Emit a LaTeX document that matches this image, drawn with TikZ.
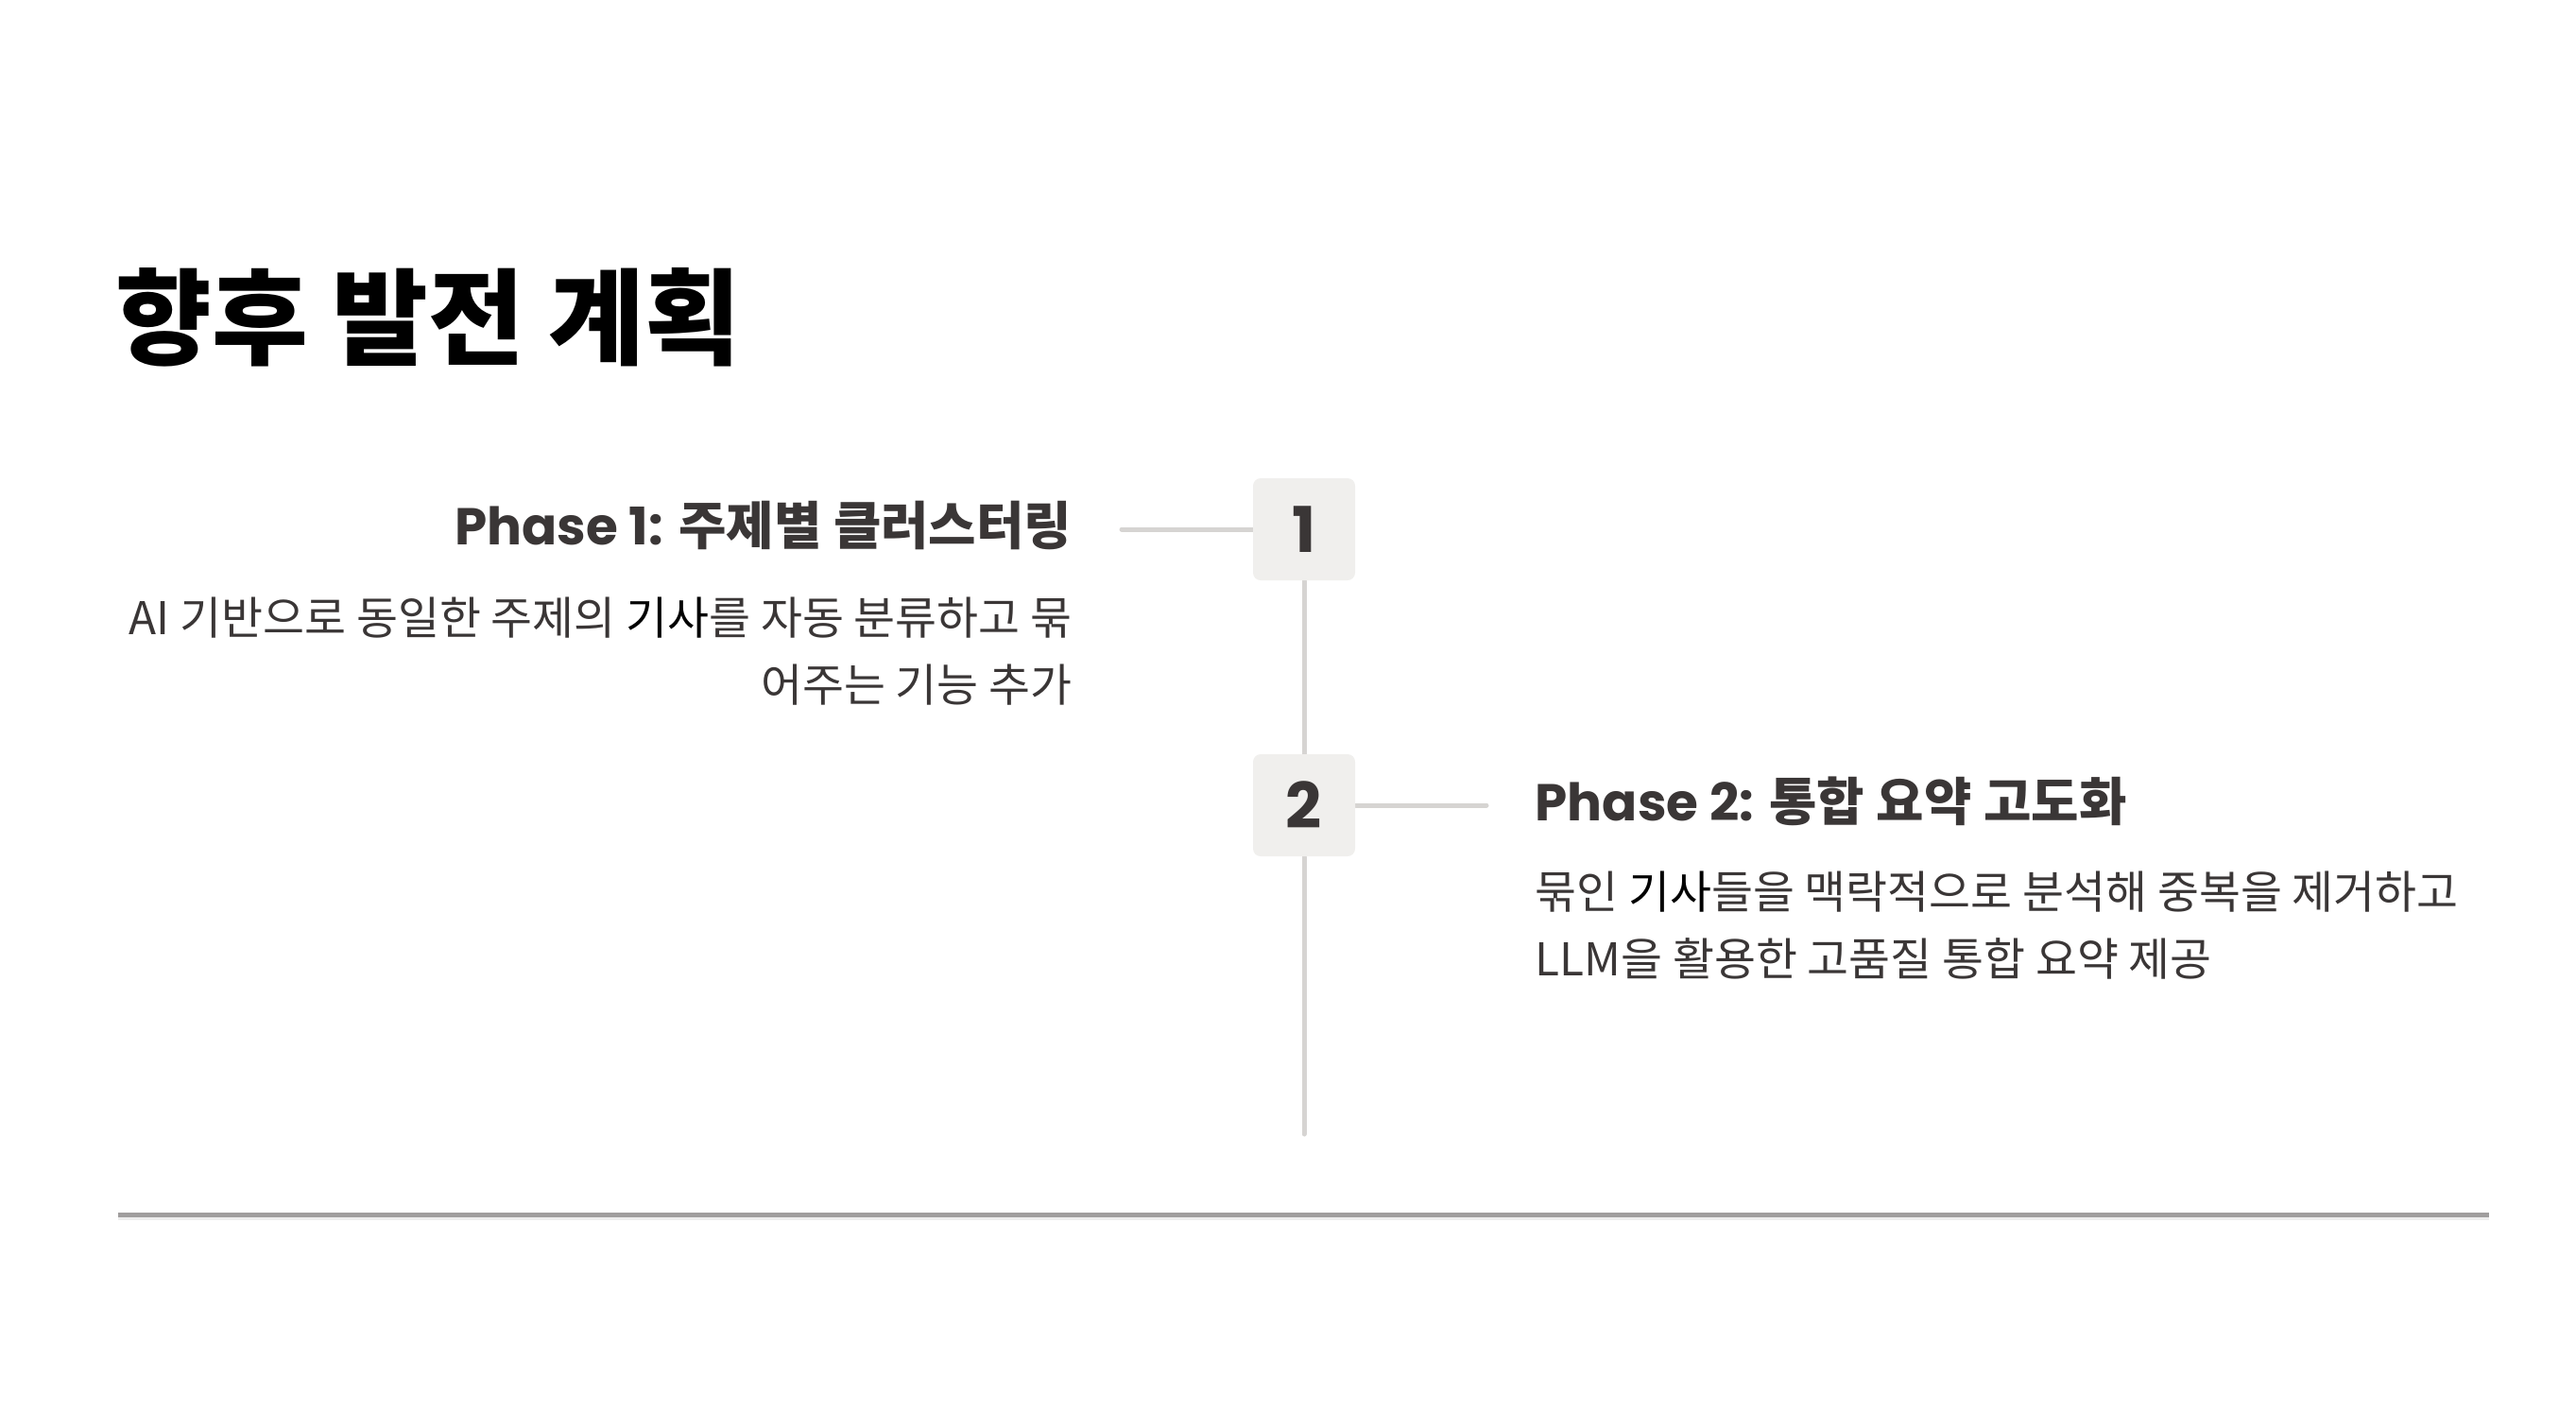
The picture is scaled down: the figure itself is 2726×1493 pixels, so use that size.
\documentclass[tikz,border=0pt]{standalone}
\usepackage{fontspec}
\setmainfont{Noto Sans CJK KR}
\newfontfamily\krfont{Noto Sans CJK KR}
\newfontfamily\numfont{Poppins}
\usetikzlibrary{backgrounds}
\definecolor{inkdark}{HTML}{3A3636}
\definecolor{boxfill}{HTML}{F0EFED}
\definecolor{linegray}{HTML}{D6D4D2}
\definecolor{rulegray}{HTML}{A09E9E}
\definecolor{ruleshade}{HTML}{EDEDED}
\tikzset{
  phasebox/.style={fill=boxfill, rounded corners=0.8mm, minimum size=10.8mm, inner sep=0pt,
    text=inkdark, font=\numfont\bfseries\fontsize{19pt}{19pt}\selectfont},
  phasehead/.style={inner sep=0pt, text=inkdark, font=\fontsize{15.6pt}{18pt}\selectfont},
  phasetext/.style={inner sep=0pt, text=inkdark, font=\krfont\fontsize{13.6pt}{20.2pt}\selectfont},
  link/.style={draw=linegray, line width=0.5mm, line cap=round},
}
\newcommand{\kw}[1]{\textcolor{black}{#1}}
\begin{document}
\begin{tikzpicture}[x=0.1mm, y=-0.1mm]
  \useasboundingbox (0,0) rectangle (2726,1493);
  % title
  \node[anchor=base west, inner sep=0pt, font=\krfont\bfseries\fontsize{31.5pt}{34pt}\selectfont] (title) at (122,377) {향후 발전 계획};
  % timeline boxes
  \node[phasebox] (n1) at (1380,560) {1};
  \node[phasebox] (n2) at (1380,852) {2};
  \coordinate (l1) at (1187,560);
  \coordinate (r2) at (1573,852);
  \coordinate (tail) at (1380,1200);
  % phase texts
  \node[phasehead, anchor=base east] (head1) at (1135,576) {{\numfont\bfseries Phase 1:} {\krfont\bfseries 주제별 클러스터링}};
  \node[phasetext, anchor=north east, align=right] (desc1) at (1135,631) {AI 기반으로 동일한 주제의 \kw{기사}를 자동 분류하고 묶\\어주는 기능 추가};
  \node[phasehead, anchor=base west] (head2) at (1624,868) {{\numfont\bfseries Phase 2:} {\krfont\bfseries 통합 요약 고도화}};
  \node[phasetext, anchor=north west, align=left] (desc2) at (1624,921) {묶인 \kw{기사}들을 맥락적으로 분석해 중복을 제거하고\\LLM을 활용한 고품질 통합 요약 제공};
  \begin{scope}[on background layer]
    \draw[link] (l1) -- (n1);
    \draw[link] (n1) -- (n2) -- (tail);
    \draw[link] (n2) -- (r2);
  \end{scope}
  % bottom rule
  \coordinate (rl) at (125,1285);
  \coordinate (rr) at (2634,1285);
  \draw[ruleshade, line width=0.4mm] ([yshift=-0.4mm]rl) -- ([yshift=-0.4mm]rr);
  \draw[rulegray, line width=0.5mm] (rl) -- (rr);
\end{tikzpicture}
\end{document}
